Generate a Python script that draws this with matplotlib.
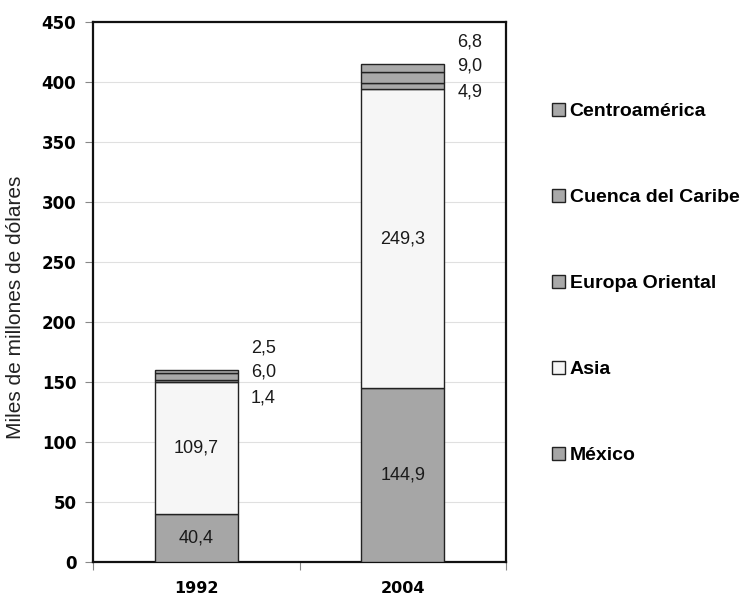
import matplotlib

matplotlib.use("Agg")
import matplotlib.pyplot as plt  # noqa: E402
import numpy as np  # noqa: E402

# data (miles de millones de dólares)
years = ["1992", "2004"]
mexico = [40.4, 144.9]
asia = [109.7, 249.3]
europa = [1.4, 4.9]
caribe = [6.0, 9.0]
centro = [2.5, 6.8]

series = [
    ("México", mexico, "#a6a6a6"),
    ("Asia", asia, "#f6f6f6"),
    ("Europa Oriental", europa, "#a9a9a9"),
    ("Cuenca del Caribe", caribe, "#a9a9a9"),
    ("Centroamérica", centro, "#a9a9a9"),
]


def fmt(v: float) -> str:
    return f"{v:.1f}".replace(".", ",")


plt.rcParams["font.family"] = ["Liberation Sans", "DejaVu Sans"]

fig = plt.figure(figsize=(7.43, 5.97), dpi=100)
ax = fig.add_axes([0.1252, 0.0586, 0.5558, 0.9045])

x = np.arange(len(years))
width = 0.4
bottom = np.zeros(len(years))
handles = []
for name, vals, col in series:
    vals = np.array(vals)
    h = ax.bar(x, vals, width, bottom=bottom, color=col, edgecolor="#222222",
               linewidth=1.0, label=name, zorder=3)
    handles.append(h)
    bottom += vals

# labels inside the two big segments
base = np.zeros(len(years))
for vals in (mexico, asia):
    for i, v in enumerate(vals):
        ax.text(x[i], base[i] + v / 2, fmt(v), ha="center", va="center",
                fontsize=13, color="#1a1a1a", zorder=4)
    base += np.array(vals)

# small segments labelled to the right of the bar top
totals = bottom
offsets = [-23, -1.5, 18.5]
for vals, off in zip((europa, caribe, centro), offsets):
    for i, v in enumerate(vals):
        ax.text(x[i] + 0.325, totals[i] + off, fmt(v), ha="center", va="center",
                fontsize=13, color="#1a1a1a")

ax.set_xlim(-0.5, 1.5)
ax.set_ylim(0, 450)
ax.set_yticks(np.arange(0, 451, 50))
ax.yaxis.grid(True, color="#e0e0e0", lw=0.8, zorder=0)
ax.set_axisbelow(True)
ax.tick_params(axis="y", direction="out", length=6, width=0.8, color="#888888", pad=6)
for lab in ax.get_yticklabels():
    lab.set_family("DejaVu Sans")
    lab.set_fontweight("bold")
    lab.set_fontsize(12)

ax.set_xticks(x)
ax.set_xticklabels(years, family="DejaVu Sans", fontweight="bold", fontsize=11.5)
ax.tick_params(axis="x", which="major", length=0, pad=14)
ax.set_xticks([-0.5, 0.5, 1.5], minor=True)
ax.tick_params(axis="x", which="minor", direction="out", length=6, width=0.8,
               color="#888888")

for sp in ax.spines.values():
    sp.set_linewidth(1.6)
    sp.set_color("#111111")

ax.set_ylabel("Miles de millones de dólares", fontsize=15, color="#222222")
ax.yaxis.set_label_coords(-0.165, 0.472)

fig.legend(handles[::-1], [s[0] for s in series][::-1], loc="center left",
           bbox_to_anchor=(0.743, 0.525), frameon=False,
           prop={"weight": "bold", "size": 14}, labelspacing=3.52,
           handlelength=0.68, handleheight=0.68, handletextpad=0.22,
           borderpad=0, borderaxespad=0)

fig.savefig("out.png", dpi=100)
